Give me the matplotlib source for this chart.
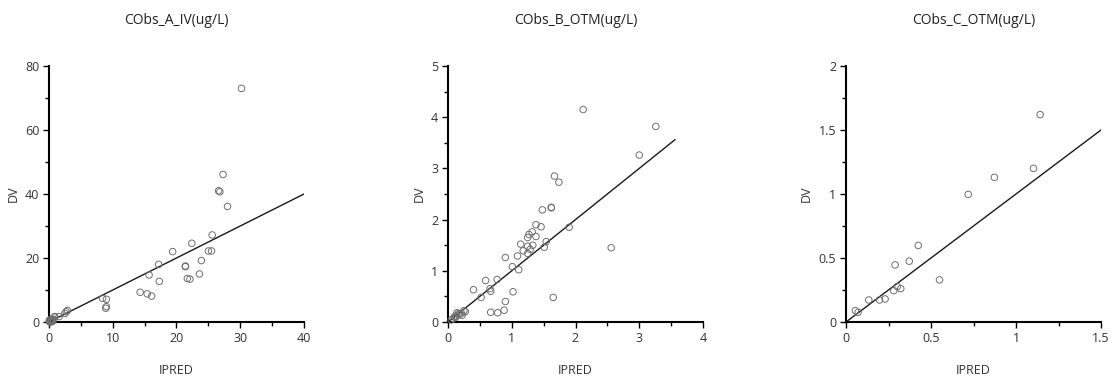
import numpy as np
import matplotlib
matplotlib.use("Agg")
import matplotlib.pyplot as plt
from matplotlib.ticker import MultipleLocator, FuncFormatter

plt.rcParams['font.family'] = ['Open Sans', 'DejaVu Sans']

titles = ["CObs_A_IV(ug/L)", "CObs_B_OTM(ug/L)", "CObs_C_OTM(ug/L)"]

# panel A (IV)
ipred_a = [30.2, 27.3, 26.6, 26.8, 28.0, 25.6, 22.4, 19.4, 25.0, 25.5, 23.9, 17.2,
           21.4, 21.4, 15.7, 23.6, 21.7, 22.1, 17.3, 14.3, 15.4, 16.1, 8.4, 9.0,
           8.9, 9.0, 2.7, 2.9, 2.5, 1.6, 0.9, 0.9,
           0.1, 0.2, 0.3, 0.4, 0.5, 0.6, 0.15, 0.25, 0.35, 0.05, 0.45, 0.7,
           0.1, 0.2, 0.3, 0.4, 0.5, 0.6, 0.05, 0.15, 0.25, 0.35]
dv_a = [73.0, 46.1, 41.0, 40.7, 36.1, 27.2, 24.6, 22.0, 22.2, 22.2, 19.2, 18.0,
        17.5, 17.3, 14.7, 15.0, 13.6, 13.4, 12.7, 9.3, 8.8, 8.1, 7.4, 7.1,
        4.3, 4.8, 3.2, 3.6, 2.7, 1.7, 1.7, 1.5,
        0.1, 0.3, 0.2, 0.5, 0.4, 0.7, 0.0, 0.6, 0.9, 0.2, 0.1, 0.8,
        0.4, 0.1, 0.6, 0.2, 0.8, 0.3, 0.5, 0.3, 0.2, 0.4]

# panel B (OTM)
ipred_b = [2.12, 3.26, 3.00, 1.67, 1.74, 1.62, 1.62, 1.48, 1.90, 1.38, 1.46, 1.32,
           1.27, 1.25, 1.38, 1.14, 1.33, 1.25, 1.54, 1.51, 1.29, 1.18, 1.25, 1.09,
           0.90, 2.56, 1.01, 1.11, 0.59, 0.77, 0.40, 0.66, 0.67, 1.02, 0.52, 1.65,
           0.90, 0.88, 0.67, 0.78,
           0.25, 0.21, 0.18, 0.13, 0.10, 0.14, 0.08, 0.05, 0.22, 0.16, 0.27, 0.12]
dv_b = [4.15, 3.82, 3.26, 2.85, 2.73, 2.23, 2.24, 2.19, 1.85, 1.90, 1.86, 1.76,
        1.71, 1.65, 1.67, 1.52, 1.50, 1.48, 1.57, 1.46, 1.42, 1.39, 1.34, 1.29,
        1.26, 1.45, 1.08, 1.02, 0.81, 0.83, 0.63, 0.65, 0.60, 0.59, 0.48, 0.48,
        0.40, 0.23, 0.19, 0.18,
        0.22, 0.17, 0.15, 0.12, 0.10, 0.18, 0.07, 0.04, 0.13, 0.16, 0.20, 0.09]

# panel C (OTM)
ipred_c = [1.142, 1.103, 0.873, 0.719, 0.425, 0.372, 0.289, 0.550, 0.301, 0.322,
           0.281, 0.230, 0.197, 0.134, 0.055, 0.071]
dv_c = [1.62, 1.20, 1.13, 0.997, 0.598, 0.475, 0.446, 0.329, 0.277, 0.261,
        0.245, 0.180, 0.172, 0.172, 0.089, 0.076]

xlims = [40, 4, 1.5]
ylims = [80, 5, 2]
xmajor = [10, 1, 0.5]
ymajor = [20, 1, 0.5]
line_end = [40, 3.56, 1.5]

data = [(ipred_a, dv_a), (ipred_b, dv_b), (ipred_c, dv_c)]

fig = plt.figure(figsize=(11.12, 3.76), dpi=100)
lefts = [49 / 1112, 448 / 1112, 846 / 1112]
fmt = FuncFormatter(lambda v, p: f"{v:g}")

for i in range(3):
    ax = fig.add_axes([lefts[i], 54 / 376, 255 / 1112, 256 / 376])
    x, y = data[i]
    ax.scatter(x, y, s=22, facecolors='none', edgecolors='#6e6e6e', linewidths=0.7, zorder=3, clip_on=False)
    ax.plot([0, line_end[i]], [0, line_end[i]], color='#1a1a1a', lw=1.0, zorder=2)
    ax.set_xlim(0, xlims[i])
    ax.set_ylim(0, ylims[i])
    ax.xaxis.set_major_locator(MultipleLocator(xmajor[i]))
    ax.xaxis.set_minor_locator(MultipleLocator(xmajor[i] / 2))
    ax.yaxis.set_major_locator(MultipleLocator(ymajor[i]))
    ax.yaxis.set_minor_locator(MultipleLocator(ymajor[i] / 2))
    ax.xaxis.set_major_formatter(fmt)
    ax.yaxis.set_major_formatter(fmt)
    for s in ['top', 'right']:
        ax.spines[s].set_visible(False)
    for s in ['left', 'bottom']:
        ax.spines[s].set_linewidth(1.5)
        ax.spines[s].set_color('black')
    ax.tick_params(which='major', length=4, width=1, labelsize=9, labelcolor='#333333', pad=3)
    ax.tick_params(which='minor', length=3, width=1)
    ax.set_xlabel("IPRED", fontsize=9, color='#333333', labelpad=14)
    ax.set_ylabel("DV", fontsize=9, color='#333333', labelpad=4)
    ax.set_title(titles[i], fontsize=10, color='#222222', pad=30)

fig.savefig("out.png", dpi=100)
